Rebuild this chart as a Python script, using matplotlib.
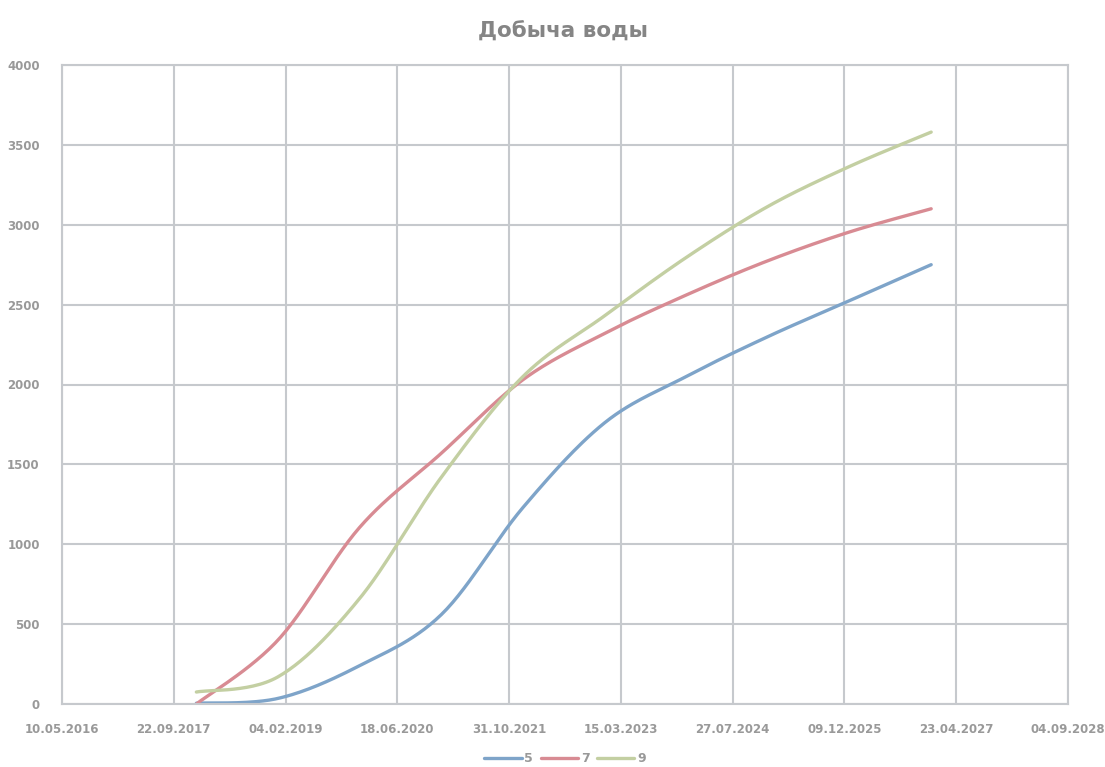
import numpy as np
import matplotlib
matplotlib.use("Agg")
import matplotlib.pyplot as plt
import matplotlib.dates as mdates
from datetime import date, timedelta

# ---- data ----
years = [2018, 2019, 2020, 2021, 2022, 2023, 2024, 2025, 2026, 2027]
series_names = ["5", "7", "9"]
s5 = [5, 35, 240, 560, 1230, 1760, 2050, 2300, 2525, 2750]
s7 = [0, 400, 1105, 1570, 2030, 2320, 2560, 2775, 2955, 3100]
s9 = [75, 170, 660, 1420, 2050, 2430, 2795, 3115, 3365, 3580]
tick_start = date(2016, 5, 10)
tick_step_days = 500
n_ticks = 10
y_ticks = [0, 500, 1000, 1500, 2000, 2500, 3000, 3500, 4000]
title = "Добыча воды"

colors = ["#7ea4c9", "#d88b93", "#c3cfa2"]


def smooth(x, y, n=30):
    """Excel-like smoothing (Catmull-Rom via cubic Bezier)."""
    x = np.asarray(x, float)
    y = np.asarray(y, float)
    P = np.column_stack([x, y])
    out = []
    m = len(P)
    for i in range(m - 1):
        p0 = P[i - 1] if i > 0 else P[i]
        p1 = P[i]
        p2 = P[i + 1]
        p3 = P[i + 2] if i + 2 < m else P[i + 1]
        c1 = p1 + (p2 - p0) / 6.0
        c2 = p2 - (p3 - p1) / 6.0
        t = np.linspace(0, 1, n)[:, None]
        b = ((1 - t) ** 3) * p1 + 3 * ((1 - t) ** 2) * t * c1 + 3 * (1 - t) * t ** 2 * c2 + t ** 3 * p2
        out.append(b if i == 0 else b[1:])
    B = np.vstack(out)
    return B[:, 0], B[:, 1]


fig = plt.figure(figsize=(11.05, 7.67), dpi=100)
ax = fig.add_axes([62 / 1105, 1 - 704 / 767, (1068 - 62) / 1105, (704 - 65) / 767])

xd = mdates.date2num([date(yr, 1, 1) for yr in years])
for name, vals, c in zip(series_names, [s5, s7, s9], colors):
    sx, sy = smooth(xd, vals)
    ax.plot(sx, sy, color=c, lw=2.4, label=name, solid_capstyle="round")

ticks = [tick_start + timedelta(days=tick_step_days * k) for k in range(n_ticks)]
tnum = mdates.date2num(ticks)
ax.set_xticks(tnum)
ax.set_xticklabels([t.strftime("%d.%m.%Y") for t in ticks])
ax.set_xlim(tnum[0], tnum[-1])
ax.set_ylim(0, 4000)
ax.set_yticks(y_ticks)

grid_c = "#c6c9cd"
ax.grid(True, color=grid_c, lw=1.5)
ax.set_axisbelow(True)
for sp in ax.spines.values():
    sp.set_color(grid_c)
    sp.set_linewidth(1.5)
ax.tick_params(length=0, colors="#8c8c8c", labelsize=8.5)
ax.tick_params(axis="x", pad=14)
ax.tick_params(axis="y", pad=16)
for lab in ax.get_xticklabels() + ax.get_yticklabels():
    lab.set_fontweight("bold")
    lab.set_color("#999999")

fig.text(0.5095, 1 - 32 / 767, title, ha="center", va="center",
         fontsize=15.5, fontweight="bold", color="#858585")

leg = fig.legend(loc="center", bbox_to_anchor=(565 / 1105, 1 - 759 / 767), ncol=3,
                 frameon=False, fontsize=9, handlelength=3.0, columnspacing=0.6,
                 handletextpad=0.2)
for t in leg.get_texts():
    t.set_color("#999999")
    t.set_fontweight("bold")

fig.savefig("out.png", dpi=100, facecolor="white")
